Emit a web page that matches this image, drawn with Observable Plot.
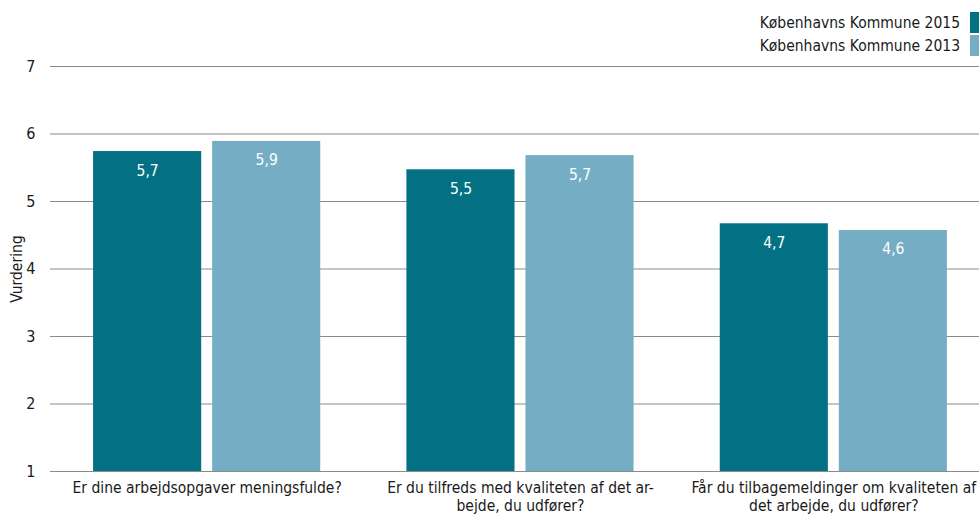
<!DOCTYPE html>
<html>
<head>
<meta charset="utf-8">
<script src="https://cdn.jsdelivr.net/npm/d3@7"></script>
<script src="https://cdn.jsdelivr.net/npm/@observablehq/plot@0.6"></script>
<style>
  html, body { margin: 0; padding: 0; background: #fff; overflow: hidden; }
  #wrap { position: relative; width: 979px; height: 514px; overflow: hidden;
          font-family: "DejaVu Sans Condensed", "DejaVu Sans", sans-serif; font-stretch: condensed; color: #1a1a1a; }
  #wrap svg { position: absolute; left: 0; top: 0; max-width: none !important; }
  #legend { position: absolute; top: 12px; right: -5px; font-size: 15.5px; }
  .row { display: flex; justify-content: flex-end; align-items: center; height: 21px; margin-bottom: 2px; }
  .sw { width: 14px; height: 21px; margin-left: 10px; }
</style>
</head>
<body>
<div id="wrap"><div id="legend"></div></div>
<script>
const questions = [
  "Er dine arbejdsopgaver meningsfulde?",
  "Er du tilfreds med kvaliteten af det ar-\nbejde, du udfører?",
  "Får du tilbagemeldinger om kvaliteten af\ndet arbejde, du udfører?"
];
const series = ["Københavns Kommune 2015", "Københavns Kommune 2013"];
const values2015 = [5.74, 5.47, 4.67];
const values2013 = [5.89, 5.68, 4.57];
const labels2015 = ["5,7", "5,5", "4,7"];
const labels2013 = ["5,9", "5,7", "4,6"];
const colors = ["#037183", "#75aec4"];
const yTicks = [1, 2, 3, 4, 5, 6, 7];
const yBase = 1;
const yTitle = "Vurdering";

const data = [];
questions.forEach((q, i) => {
  data.push({q, s: series[0], v: values2015[i], label: labels2015[i]});
  data.push({q, s: series[1], v: values2013[i], label: labels2013[i]});
});

const font = '"DejaVu Sans Condensed", "DejaVu Sans", sans-serif';
const common = {
  width: 990, height: 514,
  marginLeft: 50, marginRight: 0, marginTop: 66, marginBottom: 43,
  style: {fontFamily: font, fontSize: "15.5px", color: "#1a1a1a", background: "transparent", overflow: "visible"}
};

const back = Plot.plot({
  ...common,
  y: {domain: [yTicks[0], yTicks[yTicks.length - 1]]},
  marks: [
    Plot.ruleY(yTicks, {stroke: "#8a8a8a", strokeWidth: 1}),
    Plot.axisY({ticks: yTicks, tickFormat: d => String(d), tickSize: 0, tickPadding: 15, label: null, fontSize: 16}),
    Plot.text([yTitle], {frameAnchor: "left", text: d => d, rotate: -90, dx: -33, textAnchor: "middle", fontSize: 15.5, fill: "#1a1a1a"})
  ]
});

const front = Plot.plot({
  ...common,
  fx: {domain: questions, paddingInner: 0.275, paddingOuter: 0.1375, round: false, label: null},
  x: {domain: series, paddingInner: 0.092, paddingOuter: 0, round: false, axis: null},
  y: {domain: [yTicks[0], yTicks[yTicks.length - 1]], axis: null},
  color: {domain: series, range: colors},
  marks: [
    Plot.barY(data, {fx: "q", x: "s", y1: () => yBase, y2: "v", fill: "s"}),
    Plot.text(data, {fx: "q", x: "s", y: "v", text: "label", dy: 19, fill: "white", fontSize: 15.5}),
    Plot.axisFx({anchor: "bottom", tickSize: 0, tickPadding: 8, label: null, lineHeight: 1.2, fontSize: 15.5})
  ]
});

const wrap = document.getElementById("wrap");
wrap.insertBefore(back, wrap.firstChild);
wrap.insertBefore(front, document.getElementById("legend"));

const legend = document.getElementById("legend");
series.forEach((s, i) => {
  const row = document.createElement("div");
  row.className = "row";
  const t = document.createElement("span");
  t.textContent = s;
  const sw = document.createElement("span");
  sw.className = "sw";
  sw.style.background = colors[i];
  row.appendChild(t); row.appendChild(sw);
  legend.appendChild(row);
});
</script>
</body>
</html>
